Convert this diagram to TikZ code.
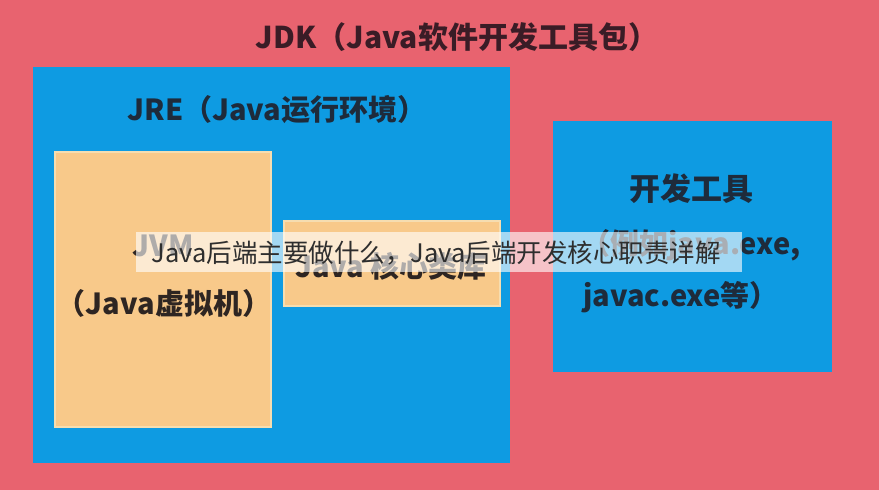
\documentclass[tikz,border=0pt]{standalone}
\usepackage{fontspec}
\newfontfamily\cjk{Noto Sans CJK SC}
\definecolor{bgpink}{HTML}{E8636F}
\definecolor{boxblue}{HTML}{0E9BE2}
\definecolor{boxorange}{HTML}{F8C98A}
\definecolor{orangeedge}{HTML}{F6DDB0}
\definecolor{titlecol}{HTML}{3A1C26}
\definecolor{textcol}{HTML}{1E2B3B}
\definecolor{browntext}{HTML}{2E2522}
\definecolor{wmtext}{HTML}{2E2E2E}
\tikzset{
  region/.style={anchor=north west, inner sep=0pt, outer sep=0pt},
  bluebox/.style={region, fill=boxblue},
  orangebox/.style={region, fill=boxorange, draw=orangeedge, line width=1.2pt},
  label/.style={inner sep=0pt, font=\cjk\bfseries\fontsize{29}{34}\selectfont, text=textcol, align=center},
  wmbox/.style={region, fill=white, fill opacity=0.62, text opacity=1},
  wmlabel/.style={inner sep=0pt, font=\cjk\fontsize{25.5}{30}\selectfont, text=wmtext}
}
\begin{document}
\begin{tikzpicture}[x=1pt,y=-1pt]
\fill[bgpink] (0,0) rectangle (879,490);
\useasboundingbox (0,0) rectangle (879,490);
% title
\node[label, text=titlecol, font=\cjk\bfseries\fontsize{30}{35}\selectfont] (jdk) at (457,37) {JDK（Java软件开发工具包）};
% JRE box
\node[bluebox, minimum width=477pt, minimum height=396pt] (jre) at (33,67) {};
\node[label] (jretitle) at (277,110) {JRE（Java运行环境）};
% JVM box
\node[orangebox, minimum width=216pt, minimum height=275pt] (jvm) at (55,152) {};
\node[label, text=browntext] (jvmname) at (163,246) {JVM};
\node[label, text=browntext] (jvmdesc) at (164,303) {（Java虚拟机）};
% core library box
\node[orangebox, minimum width=216pt, minimum height=85pt] (lib) at (284,221) {};
\node[label, text=browntext] (libname) at (391,266) {Java 核心类库};
% dev tools box
\node[bluebox, minimum width=279pt, minimum height=251pt] (tools) at (553,121) {};
\node[label, font=\cjk\bfseries\fontsize{31}{36}\selectfont] (toolsname) at (691,189) {开发工具};
\node[label] (toolsex1) at (691,245) {（例如java.exe,};
\node[label] (toolsex2) at (681,297) {javac.exe等）};
% watermark
\node[wmbox, minimum width=606pt, minimum height=40pt] (wm) at (136,232) {};
\node[wmlabel] (wmtext) at (436,253) {Java后端主要做什么，Java后端开发核心职责详解};
\end{tikzpicture}
\end{document}
